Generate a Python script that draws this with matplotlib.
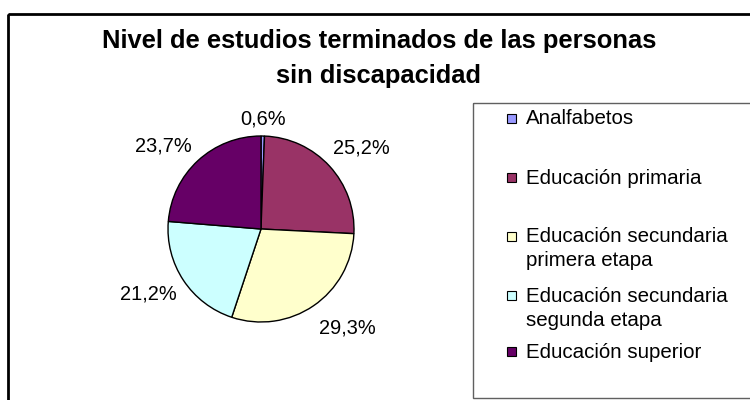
import matplotlib
matplotlib.use("Agg")
import matplotlib.pyplot as plt
import numpy as np
from matplotlib.patches import Rectangle

# ---- data ----
categories = ["Analfabetos", "Educación primaria",
              "Educación secundaria\nprimera etapa",
              "Educación secundaria\nsegunda etapa",
              "Educación superior"]
values = [0.6, 25.2, 29.3, 21.2, 23.7]
value_labels = ["0,6%", "25,2%", "29,3%", "21,2%", "23,7%"]
colors = ["#9999FF", "#993366", "#FFFFCC", "#CCFFFF", "#660066"]
title_lines = ["Nivel de estudios terminados de las personas", "sin discapacidad"]

# ---- layout (pixels, y down) ----
W, H = 750, 400
pie_cx, pie_cy, pie_r = 261, 229, 93
label_gap = 15
label_nudge = [(0, 7), (0, -2), (9, 2.5), (1, 0), (-5, 3)]   # px (x right, y down)
legend_box = (473, 103, 320, 295)
legend_line_y = [[118], [177], [236, 260], [295, 319], [351]]
legend_marker_x = 507
legend_text_x = 526
title_cx = 379
title_baselines = [48, 83]
fs_label = 14.4
fs_legend = 14.8
fs_title = 18.4

plt.rcParams['font.family'] = ['Liberation Sans', 'DejaVu Sans']
fig = plt.figure(figsize=(W / 100, H / 100), dpi=100)
fig.patch.set_facecolor('white')

ov = fig.add_axes([0, 0, 1, 1])
ov.set_xlim(0, W)
ov.set_ylim(H, 0)
ov.axis('off')

# outer chart frame
ov.add_patch(Rectangle((8, 14), W + 20, H + 20, fill=False, lw=2, ec='black'))

# title
for line, yb in zip(title_lines, title_baselines):
    ov.text(title_cx, yb, line, ha='center', va='baseline',
            fontsize=fs_title, fontweight='bold', color='black')

# pie
ax = fig.add_axes([(pie_cx - pie_r) / W, (H - pie_cy - pie_r) / H,
                   2 * pie_r / W, 2 * pie_r / H])
wedges, _ = ax.pie(values, colors=colors, startangle=90, counterclock=False,
                   radius=1, wedgeprops=dict(edgecolor='black', linewidth=1.0))
ax.set_xlim(-1, 1)
ax.set_ylim(-1, 1)
ax.set_aspect('equal', adjustable='box')
ax.axis('off')

# percentage labels, placed outside each wedge
texts = []
for lab in value_labels:
    texts.append(ax.text(0, 0, lab, ha='center', va='center', fontsize=fs_label,
                         clip_on=False, color='black'))
fig.canvas.draw()
renderer = fig.canvas.get_renderer()
cum = np.cumsum([0] + values[:-1])
total = sum(values)
for t, start, v, (nx, ny) in zip(texts, cum, values, label_nudge):
    mid = np.deg2rad(90 - (start + v / 2) / total * 360)
    c, s = np.cos(mid), np.sin(mid)
    bb = t.get_window_extent(renderer)
    hw = bb.width / 2 / pie_r
    hh = bb.height / 2 / pie_r
    d = 1 + label_gap / pie_r
    t.set_position((d * c + hw * c + nx / pie_r, d * s + hh * s - ny / pie_r))

# legend
x0, y0, bw, bh = legend_box
ov.add_patch(Rectangle((x0, y0), bw, bh, fill=False, lw=1, ec='#606060'))
for cat, col, ys in zip(categories, colors, legend_line_y):
    lines = cat.split("\n")
    ov.add_patch(Rectangle((legend_marker_x, ys[0] - 4.5), 9, 9, fc=col,
                           ec='black', lw=0.8))
    for line, y in zip(lines, ys):
        ov.text(legend_text_x, y + 6.5, line, ha='left', va='baseline',
                fontsize=fs_legend, color='black')

fig.savefig("out.png", dpi=100, facecolor='white')
